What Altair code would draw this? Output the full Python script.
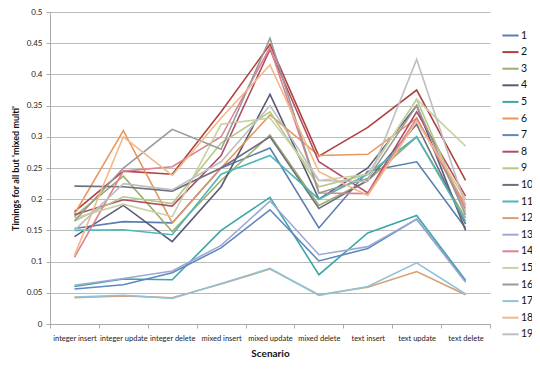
import altair as alt
import pandas as pd

scenarios = ["integer insert", "integer update", "integer delete", "mixed insert",
             "mixed update", "mixed delete", "text insert", "text update", "text delete"]
series_names = [str(i) for i in range(1, 20)]

s1 = [0.153, 0.164, 0.162, 0.250, 0.282, 0.154, 0.245, 0.260, 0.154]
s2 = [0.180, 0.245, 0.240, 0.340, 0.448, 0.269, 0.315, 0.375, 0.230]
s3 = [0.172, 0.237, 0.148, 0.230, 0.303, 0.190, 0.230, 0.300, 0.170]
s4 = [0.140, 0.190, 0.132, 0.220, 0.368, 0.200, 0.250, 0.350, 0.150]
s5 = [0.060, 0.072, 0.071, 0.150, 0.203, 0.079, 0.146, 0.174, 0.070]
s6 = [0.176, 0.310, 0.162, 0.250, 0.335, 0.270, 0.272, 0.330, 0.190]
s7 = [0.056, 0.063, 0.082, 0.122, 0.183, 0.101, 0.121, 0.168, 0.068]
s8 = [0.175, 0.199, 0.189, 0.270, 0.440, 0.260, 0.210, 0.340, 0.205]
s9 = [0.165, 0.204, 0.193, 0.290, 0.340, 0.220, 0.240, 0.360, 0.180]
s10 = [0.221, 0.220, 0.213, 0.250, 0.300, 0.185, 0.230, 0.320, 0.160]
s11 = [0.150, 0.151, 0.143, 0.240, 0.270, 0.200, 0.240, 0.300, 0.165]
s12 = [0.042, 0.045, 0.042, 0.064, 0.088, 0.047, 0.059, 0.084, 0.047]
s13 = [0.062, 0.073, 0.085, 0.126, 0.197, 0.111, 0.124, 0.168, 0.067]
s14 = [0.107, 0.245, 0.252, 0.300, 0.443, 0.210, 0.209, 0.330, 0.185]
s15 = [0.170, 0.192, 0.172, 0.320, 0.330, 0.230, 0.240, 0.360, 0.285]
s16 = [0.165, 0.250, 0.312, 0.280, 0.458, 0.210, 0.233, 0.350, 0.175]
s17 = [0.043, 0.046, 0.041, 0.065, 0.089, 0.046, 0.060, 0.098, 0.048]
s18 = [0.110, 0.300, 0.238, 0.330, 0.415, 0.244, 0.206, 0.325, 0.200]
s19 = [0.150, 0.225, 0.215, 0.260, 0.350, 0.230, 0.228, 0.424, 0.190]

all_series = [s1, s2, s3, s4, s5, s6, s7, s8, s9, s10, s11, s12, s13, s14, s15, s16, s17, s18, s19]

colors = ["#5A7FAE", "#B0413E", "#9CAE6B", "#5B5B78", "#3FA6A6", "#E8965A",
          "#5E88C0", "#B04E62", "#B5C985", "#6E6E80", "#4DB6B8", "#D8A070",
          "#9DA9D4", "#E08090", "#C8D0A8", "#999999", "#8FC3D8", "#F2B888", "#BFBFBF"]

y_ticks = [0, 0.05, 0.1, 0.15, 0.2, 0.25, 0.3, 0.35, 0.4, 0.45, 0.5]

rows = []
for name, vals in zip(series_names, all_series):
    for sc, v in zip(scenarios, vals):
        rows.append({"series": name, "scenario": sc, "value": v})
df = pd.DataFrame(rows)

font = "Lato"

chart = alt.Chart(df).mark_line(strokeWidth=1.6).encode(
    x=alt.X("scenario:N", sort=scenarios, bandPosition=0.5,
            scale=alt.Scale(type="band", paddingInner=0, paddingOuter=0),
            axis=alt.Axis(title="Scenario", labelAngle=0, tickBand="extent", grid=False,
                          labelFontSize=7.5, labelFont=font, labelColor="#222",
                          titleFont=font, titleFontSize=10, titleFontWeight="bold",
                          titleColor="#111", titlePadding=7, labelPadding=6,
                          domainColor="#AAAAAA", tickColor="#AAAAAA", tickSize=4)),
    y=alt.Y("value:Q", scale=alt.Scale(domain=[0, 0.5]),
            axis=alt.Axis(title="Timings for all but 'mixed multi'", values=y_ticks, format="~g",
                          labelFontSize=8, labelFont=font, labelColor="#222",
                          titleFont=font, titleFontSize=9, titleFontWeight="bold",
                          titleColor="#111", titlePadding=6, labelPadding=4,
                          domainColor="#AAAAAA", tickColor="#AAAAAA", tickSize=4,
                          gridColor="#BBBBBB", gridWidth=1)),
    color=alt.Color("series:N", sort=series_names,
                    scale=alt.Scale(domain=series_names, range=colors),
                    legend=alt.Legend(title=None, orient="none", legendX=451, legendY=14,
                                      symbolType="stroke", symbolSize=260, symbolStrokeWidth=2,
                                      labelFont=font, labelFontSize=10.5, labelColor="#111",
                                      rowPadding=1.6, labelOffset=1)),
).properties(
    width=440, height=312,
    padding={"left": 42, "top": 4, "right": 42, "bottom": 41},
    autosize="none",
).configure_view(stroke=None)

chart.save("out.html", embed_options={"renderer": "svg", "actions": False})
